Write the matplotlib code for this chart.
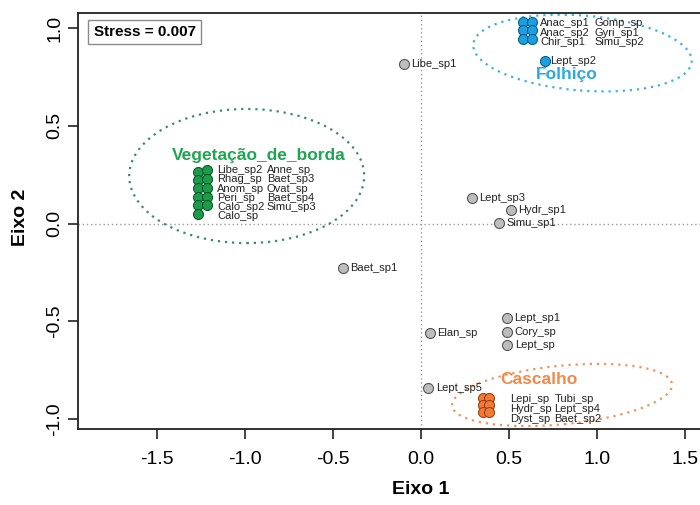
import numpy as np
import matplotlib.pyplot as plt
from matplotlib.patches import Ellipse

plt.rcParams['font.family'] = ['Liberation Sans', 'DejaVu Sans']
plt.rcParams['axes.unicode_minus'] = False

# especies sem grupo (cinza)
outros_nomes = ['Libe_sp1', 'Lept_sp3', 'Hydr_sp1', 'Simu_sp1', 'Baet_sp1',
                'Lept_sp1', 'Cory_sp', 'Lept_sp', 'Elan_sp', 'Lept_sp5']
outros_x = [-0.097, 0.288, 0.510, 0.445, -0.445, 0.487, 0.487, 0.491, 0.051, 0.042]
outros_y = [0.814, 0.129, 0.069, 0.001, -0.226, -0.485, -0.557, -0.621, -0.562, -0.840]

# Vegetacao de borda (verde)
veg_nomes = ['Libe_sp2', 'Anne_sp', 'Rhag_sp', 'Baet_sp3', 'Anom_sp', 'Ovat_sp',
             'Peri_sp', 'Baet_sp4', 'Calo_sp2', 'Simu_sp3', 'Calo_sp']
veg_x = [-1.266, -1.218, -1.266, -1.218, -1.266, -1.218, -1.266, -1.218, -1.266, -1.218, -1.266]
veg_y = [0.265, 0.274, 0.223, 0.226, 0.180, 0.180, 0.137, 0.137, 0.095, 0.095, 0.049]

# Folhico (azul)
folh_nomes = ['Anac_sp1', 'Gomp_sp', 'Anac_sp2', 'Gyri_sp1', 'Chir_sp1', 'Simu_sp2']
folh_x = [0.582, 0.629, 0.582, 0.629, 0.582, 0.629]
folh_y = [1.032, 1.032, 0.989, 0.989, 0.942, 0.942]
folh2_nomes = ['Lept_sp2']
folh2_x = [0.705]
folh2_y = [0.831]

# Cascalho (laranja)
casc_nomes = ['Lepi_sp', 'Tubi_sp', 'Hydr_sp', 'Lept_sp4', 'Dyst_sp', 'Baet_sp2']
casc_x = [0.350, 0.387, 0.350, 0.387, 0.350, 0.387]
casc_y = [-0.890, -0.890, -0.926, -0.926, -0.962, -0.962]

# elipses dos grupos
grupos = ['Vegetação_de_borda', 'Folhiço', 'Cascalho']
elip_cx = [-0.991, 0.918, 0.802]
elip_cy = [0.243, 0.872, -0.877]
elip_w = [1.336, 1.245, 1.255]
elip_h = [0.686, 0.384, 0.300]
elip_ang = [0, -4, 5]

stress = 0.007

# cores
cor_pt = {'veg': '#1c9c4a', 'folh': '#1b9fe0', 'casc': '#f47a38', 'out': '#bdbdbd'}
cor_borda = {'veg': '#0f5a2b', 'folh': '#0c5f88', 'casc': '#9a4312', 'out': '#555555'}
cor_elip = ['#3a8a6c', '#3ab3e2', '#f0925c']
cor_rot = ['#1fa650', '#2aaae2', '#f08a4c']
rot_pos = [(-0.924, 0.350), (0.828, 0.760), (0.671, -0.800)]

fig = plt.figure(figsize=(7, 5.05), dpi=100)
ax = fig.add_axes([0.1114, 0.1505, 0.98, 0.8238])

ax.axhline(0, color='#9a9a9a', lw=1.0, ls=(0, (1, 2)), zorder=1)
ax.axvline(0, color='#9a9a9a', lw=1.0, ls=(0, (1, 2)), zorder=1)

for i in range(len(grupos)):
    e = Ellipse((elip_cx[i], elip_cy[i]), elip_w[i], elip_h[i], angle=elip_ang[i],
                fill=False, edgecolor=cor_elip[i], lw=1.6, ls=(0, (1, 2.2)), zorder=2)
    ax.add_patch(e)

def pontos(xs, ys, chave):
    ax.scatter(xs, ys, s=52, c=cor_pt[chave], edgecolors=cor_borda[chave],
               linewidths=0.8, zorder=3)

def rotulos(nomes, xs, ys, dx=5.5):
    for n, x, y in zip(nomes, xs, ys):
        ax.annotate(n, (x, y), xytext=(dx, 0), textcoords='offset points',
                    ha='left', va='center', fontsize=8, color='#222222', zorder=4)

def grade(nomes, xs, ys, dx0, dy0, dcol, dlin):
    x0, y0 = max(xs), max(ys)
    for i, n in enumerate(nomes):
        lin, col = divmod(i, 2)
        ax.annotate(n, (x0, y0), xytext=(dx0 + col * dcol, dy0 - lin * dlin),
                    textcoords='offset points', ha='left', va='center',
                    fontsize=8, color='#222222', zorder=4)

pontos(outros_x, outros_y, 'out')
rotulos(outros_nomes, outros_x, outros_y)

pontos(veg_x, veg_y, 'veg')
grade(veg_nomes, veg_x, veg_y, 7.4, 0, 35.8, 6.7)

pontos(folh_x, folh_y, 'folh')
grade(folh_nomes, folh_x, folh_y, 6.0, -1.0, 39.6, 6.8)
pontos(folh2_x, folh2_y, 'folh')
rotulos(folh2_nomes, folh2_x, folh2_y, dx=3.5)

pontos(casc_x, casc_y, 'casc')
grade(casc_nomes, casc_x, casc_y, 15.5, -1.3, 31.7, 7.0)

for g, (px, py), c in zip(grupos, rot_pos, cor_rot):
    ax.text(px, py, g, ha='center', va='center', fontsize=12.5,
            fontweight='bold', color=c, zorder=5)

ax.text(0.097, 0.954, f'Stress = {stress:.3f}', transform=ax.transAxes,
        ha='center', va='center', fontsize=11, fontweight='bold',
        bbox=dict(boxstyle='square,pad=0.35', facecolor='white',
                  edgecolor='#8a8a8a', linewidth=1.0), zorder=6)

ax.set_xlim(-1.95, 1.95)
ax.set_ylim(-1.051, 1.077)
ax.set_xticks([-1.5, -1.0, -0.5, 0.0, 0.5, 1.0, 1.5])
ax.set_xticklabels([f'{v:.1f}' for v in ax.get_xticks()])
ax.set_yticks([-1.0, -0.5, 0.0, 0.5, 1.0])
ax.set_yticklabels([f'{v:.1f}' for v in ax.get_yticks()], rotation=90, va='center')
ax.tick_params(direction='out', length=7.2, width=1.2, labelsize=14, color='#222222')
ax.tick_params(axis='x', pad=9)
ax.tick_params(axis='y', pad=3.5)
for s in ax.spines.values():
    s.set_linewidth(1.3)
    s.set_color('#222222')

ax.set_xlabel('Eixo 1', fontsize=14, fontweight='bold')
ax.xaxis.set_label_coords(0.5, -0.125)
ax.set_ylabel('Eixo 2', fontsize=14, fontweight='bold')
ax.yaxis.set_label_coords(-0.0714, 0.508)

fig.savefig('out.png', dpi=100)
